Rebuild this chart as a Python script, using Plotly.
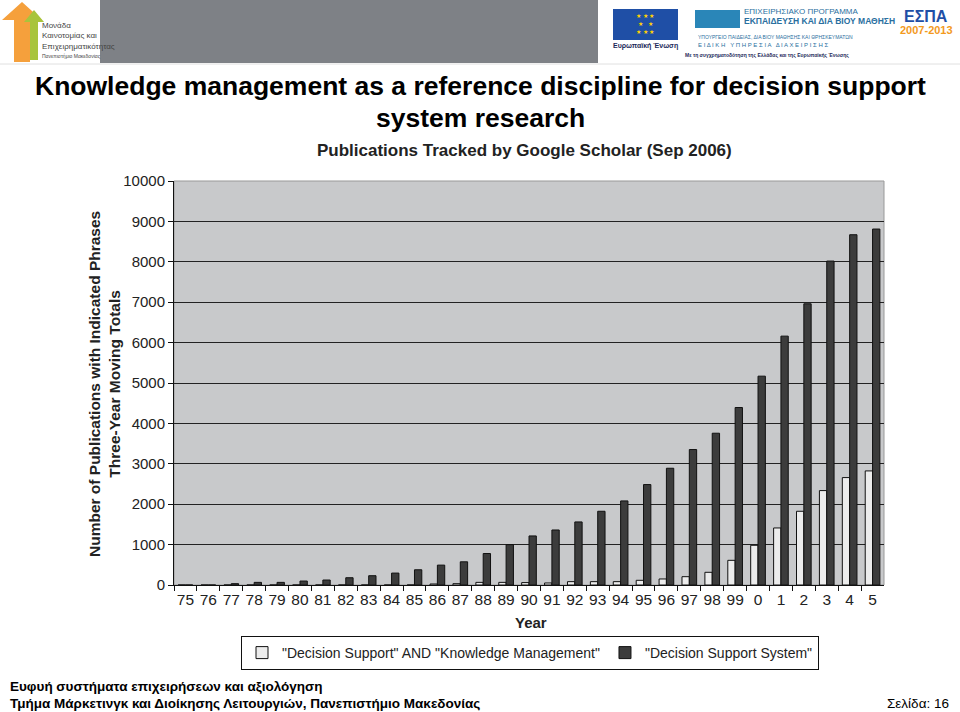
import plotly.graph_objects as go

years = ["75","76","77","78","79","80","81","82","83","84","85","86","87","88","89",
         "90","91","92","93","94","95","96","97","98","99","0","1","2","3","4","5"]
dss_km = [0,0,0,0,0,0,0,0,0,0,0,25,33,65,65,
          60,50,83,83,83,116,149,206,314,611,983,1412,1825,2337,2659,2824]
dss = [0,0,33,65,65,98,123,180,230,295,377,492,574,779,1000,
       1214,1362,1561,1825,2081,2486,2890,3353,3757,4393,5169,6160,6961,8018,8670,8811]
series_names = ['"Decision Support" AND "Knowledge Management"', '"Decision Support System"']

W, H = 960, 712
x0, x1, yt, yb = 174, 884, 181, 585
def px(x): return x / W
def py(y): return 1 - y / H

fig = go.Figure()
fig.add_bar(x=years, y=dss_km, name=series_names[0],
            marker=dict(color="#ececec", line=dict(color="#111", width=1)))
fig.add_bar(x=years, y=dss, name=series_names[1],
            marker=dict(color="#3c3c3c", line=dict(color="#111", width=1)))

fig.update_layout(
    width=W, height=H, margin=dict(l=0, r=0, t=0, b=0, pad=0, autoexpand=False), autosize=False,
    paper_bgcolor="white", plot_bgcolor="#c8c9cb",
    barmode="group", bargap=0.36, bargroupgap=0,
    font=dict(family="Arial, Liberation Sans, sans-serif", color="#222"),
    showlegend=True,
    legend=dict(orientation="h", x=px(241), y=py(636), xanchor="left", yanchor="top",
                bgcolor="white", bordercolor="#111", borderwidth=1,
                font=dict(size=14, color="#222"), itemwidth=30,
                tracegroupgap=0),
    xaxis=dict(domain=[px(x0), px(x1)], type="category", tickson="boundaries",
               ticks="outside", ticklen=5, tickcolor="#111", showline=True,
               linecolor="#111", linewidth=1, tickfont=dict(size=15.5, color="#222"),
               tickangle=0, showgrid=False, automargin=False),
    yaxis=dict(domain=[py(yb), py(yt)], range=[0, 10000], dtick=1000, tickformat="d",
               ticks="outside", ticklen=5, tickcolor="#111", showline=True,
               linecolor="#111", linewidth=1, showgrid=True, gridcolor="#222",
               gridwidth=1, tickfont=dict(size=15, color="#222"), zeroline=False,
               automargin=False),
)

# plot border (top/right)
fig.add_shape(type="rect", xref="paper", yref="paper", x0=px(x0), x1=px(x1),
              y0=py(yb), y1=py(yt), line=dict(color="#999", width=1), layer="below")

def text(t, x, y, size, bold=False, xanchor="center", color="#000", angle=0,
         family="Arial, Liberation Sans, sans-serif", yanchor="middle", align="center"):
    fig.add_annotation(text=(f"<b>{t}</b>" if bold else t), x=px(x), y=py(y),
                       xref="paper", yref="paper", showarrow=False, align=align,
                       xanchor=xanchor, yanchor=yanchor, textangle=angle,
                       font=dict(size=size, color=color, family=family))

text("Knowledge management as a reference discipline for decision support", 480, 86, 26.5, True)
text("system research", 480, 118, 26.5, True)
text("Publications Tracked by Google Scholar (Sep 2006)", 524, 150, 17, True, color="#222")
text("Number of Publications with Indicated Phrases<br>Three-Year Moving Totals",
     104, 384, 15.5, True, angle=-90, color="#222")
text("Year", 531, 622, 15, True, color="#222")

narrow = "Liberation Sans Narrow, Arial Narrow, Arial, sans-serif"
text("Ευφυή συστήματα επιχειρήσεων και αξιολόγηση", 8, 686, 13.5, True, xanchor="left", family=narrow)
text("Τμήμα Μάρκετινγκ και Διοίκησης Λειτουργιών, Πανεπιστήμιο Μακεδονίας", 8, 703, 13.5, True,
     xanchor="left", family=narrow)
text("Σελίδα: 16", 951, 703, 13.5, False, xanchor="right", family=narrow)

# header banner
fig.add_shape(type="rect", xref="paper", yref="paper", x0=px(100), x1=px(598),
              y0=py(63), y1=py(0), line=dict(width=0), fillcolor="#7e8186", layer="below")
fig.add_shape(type="line", xref="paper", yref="paper", x0=0, x1=1, y0=py(64), y1=py(64),
              line=dict(color="#e0e0e0", width=1))
# left logo (simplified arrows)
fig.add_shape(type="path", xref="paper", yref="paper",
              path=f"M {px(14)},{py(62)} L {px(14)},{py(20)} L {px(2)},{py(20)} L {px(22)},{py(2)} L {px(42)},{py(20)} L {px(30)},{py(20)} L {px(30)},{py(62)} Z",
              fillcolor="#f5a03c", line=dict(width=0))
fig.add_shape(type="path", xref="paper", yref="paper",
              path=f"M {px(30)},{py(60)} L {px(30)},{py(22)} L {px(24)},{py(22)} L {px(34)},{py(10)} L {px(44)},{py(22)} L {px(38)},{py(22)} L {px(38)},{py(60)} Z",
              fillcolor="#a8c43c", line=dict(width=0))
text("Μονάδα<br>Καινοτομίας και<br>Επιχειρηματικότητας", 40, 36, 8, False, xanchor="left",
     color="#444", family=narrow, align="left")
text("Πανεπιστήμιο Μακεδονίας", 40, 56, 5, False, xanchor="left", color="#444", family=narrow)
# right logos
fig.add_shape(type="rect", xref="paper", yref="paper", x0=px(613), x1=px(678),
              y0=py(40), y1=py(9), fillcolor="#1f4fa6", line=dict(width=0))
text("★ ★ ★<br>★   ★<br>★ ★ ★", 645, 24, 6, False, color="#ffd200")
text("Ευρωπαϊκή Ένωση", 645, 46, 7, True, color="#1d2a5a")
fig.add_shape(type="path", xref="paper", yref="paper",
              path=f"M {px(695)},{py(10)} L {px(740)},{py(10)} L {px(740)},{py(28)} L {px(695)},{py(28)} Z",
              fillcolor="#2a86b8", line=dict(width=0))
text("ΕΠΙΧΕΙΡΗΣΙΑΚΟ ΠΡΟΓΡΑΜΜΑ", 742, 11, 8, False, xanchor="left", color="#2a6fa0")
text("ΕΚΠΑΙΔΕΥΣΗ ΚΑΙ ΔΙΑ ΒΙΟΥ ΜΑΘΗΣΗ", 742, 21, 8.5, True, xanchor="left", color="#2a6fa0")
text("ΥΠΟΥΡΓΕΙΟ ΠΑΙΔΕΙΑΣ, ΔΙΑ ΒΙΟΥ ΜΑΘΗΣΗΣ ΚΑΙ ΘΡΗΣΚΕΥΜΑΤΩΝ", 696, 37, 5, False, xanchor="left", color="#2a6fa0")
text("Ε Ι Δ Ι Κ Η   Υ Π Η Ρ Ε Σ Ι Α   Δ Ι Α Χ Ε Ι Ρ Ι Σ Η Σ", 696, 45, 6, False, xanchor="left", color="#2a6fa0")
text("Με τη συγχρηματοδότηση της Ελλάδας και της Ευρωπαϊκής Ένωσης", 683, 56, 5, True, xanchor="left", color="#1d2a5a")
text("ΕΣΠΑ", 926, 16, 16, True, color="#1f4fa6")
text("2007-2013", 926, 30, 11, True, color="#f39a1e")

post = (
    "var s=document.createElement('style');"
    "s.innerHTML='html,body{margin:0;padding:0;overflow:hidden;width:960px;height:712px}';"
    "document.head.appendChild(s);"
    "var d=document.getElementsByClassName('plotly-graph-div')[0];"
    "d.style.position='absolute';d.style.top='0px';d.style.left='0px';"
)
fig.write_html("out.html", config={"displayModeBar": False}, post_script=post)
